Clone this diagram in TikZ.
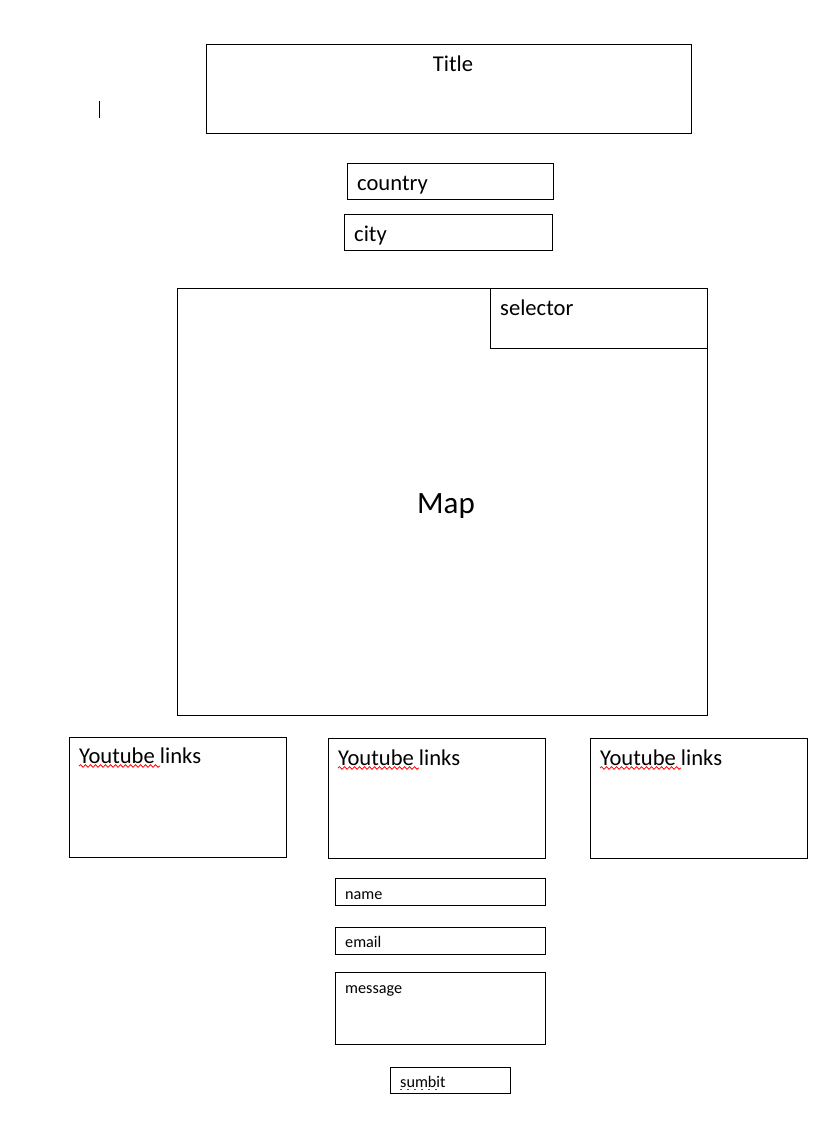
\documentclass[tikz,border=0pt]{standalone}
\usepackage{fontspec}
\setmainfont{Carlito}
\usetikzlibrary{decorations.pathmorphing}
\begin{document}
\begin{tikzpicture}[x=1pt,y=-1pt,
  box/.style={draw=black,line width=1pt,rectangle,inner sep=0pt,anchor=north west},
  lbl/.style={anchor=base west,inner sep=0pt,font=\fontsize{22.6}{26}\selectfont},
  small/.style={anchor=base west,inner sep=0pt,font=\fontsize{16.2}{19}\selectfont},
  squiggle/.style={draw=red,line width=0.8pt,decorate,decoration={snake,amplitude=1.3pt,segment length=5pt}}]
\useasboundingbox (0,0) rectangle (827,1139);
% title
\node[box,minimum width=485pt,minimum height=89pt] (title) at (206,44) {};
\node[anchor=base,inner sep=0pt,font=\fontsize{22.6}{26}\selectfont] (titletext) at (453,72) {Title};
\coordinate (cura) at (99,101);
\coordinate (curb) at (99,118);
\draw[line width=1pt] (cura) -- (curb);
% country / city
\node[box,minimum width=206pt,minimum height=36pt] (country) at (347,163) {};
\node[lbl] (countrytext) at (357,191) {country};
\node[box,minimum width=208pt,minimum height=36pt] (city) at (344,214) {};
\node[lbl] (citytext) at (354,242) {city};
% map
\node[box,minimum width=530pt,minimum height=427pt] (map) at (177,288) {};
\node[box,minimum width=217pt,minimum height=60pt] (selector) at (490,288) {};
\node[lbl] (selectortext) at (500,315) {selector};
\node[anchor=base,inner sep=0pt,font=\fontsize{31}{36}\selectfont] (maptext) at (446,513) {Map};
% youtube
\node[box,minimum width=217pt,minimum height=120pt] (yt1) at (69,737) {};
\node[lbl] (yt1text) at (79,763) {Youtube links};
\node[box,minimum width=217pt,minimum height=120pt] (yt2) at (328,738) {};
\node[lbl] (yt2text) at (338,765) {Youtube links};
\node[box,minimum width=217pt,minimum height=120pt] (yt3) at (590,738) {};
\node[lbl] (yt3text) at (600,765) {Youtube links};
\coordinate (s1a) at (79,766); \coordinate (s1b) at (160,766);
\coordinate (s2a) at (338,768); \coordinate (s2b) at (419,768);
\coordinate (s3a) at (600,768); \coordinate (s3b) at (681,768);
\draw[squiggle] (s1a) -- (s1b);
\draw[squiggle] (s2a) -- (s2b);
\draw[squiggle] (s3a) -- (s3b);
% form
\node[box,minimum width=210pt,minimum height=27pt] (name) at (335,878) {};
\node[small] (nametext) at (345,899) {name};
\node[box,minimum width=210pt,minimum height=27pt] (email) at (335,927) {};
\node[small] (emailtext) at (345,947) {email};
\node[box,minimum width=210pt,minimum height=72pt] (message) at (335,972) {};
\node[small] (messagetext) at (345,993) {message};
\node[box,minimum width=120pt,minimum height=26pt] (submit) at (390,1067) {};
\node[small] (submittext) at (400,1087) {sumbit};
\coordinate (d1a) at (400,1089); \coordinate (d1b) at (442,1089);
\draw[red,line width=0.8pt,dash pattern=on 2pt off 5pt] (d1a) -- (d1b);
\end{tikzpicture}
\end{document}
